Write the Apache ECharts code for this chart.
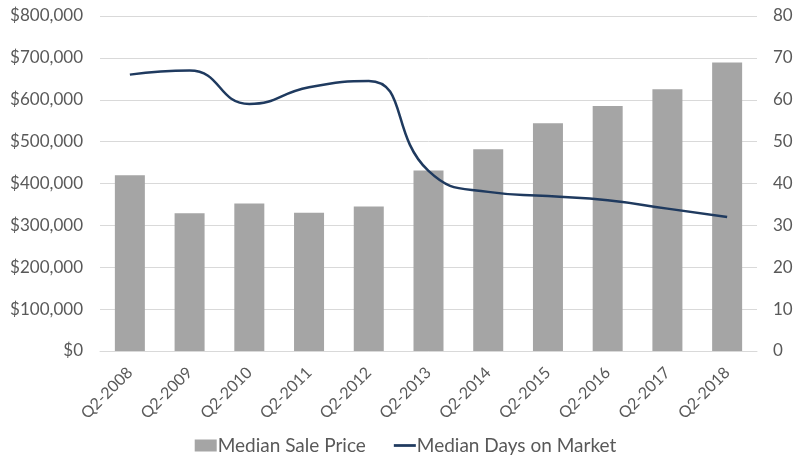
<!DOCTYPE html>
<html>
<head>
<meta charset="utf-8">
<script src="https://cdn.jsdelivr.net/npm/echarts@6/dist/echarts.min.js"></script>
<style>html,body{margin:0;padding:0;background:#fff}#c{width:811px;height:460px}</style>
</head>
<body>
<div id="c"></div>
<script>
const categories = ['Q2-2008','Q2-2009','Q2-2010','Q2-2011','Q2-2012','Q2-2013','Q2-2014','Q2-2015','Q2-2016','Q2-2017','Q2-2018'];
const salePrice = [420000, 329000, 352000, 330000, 345000, 431000, 482000, 544000, 585000, 625000, 689000];
const daysOnMarket = [66, 67, 59, 63, 64.5, 43, 38, 37, 36, 34, 32];
const leftTicks = { min: 0, max: 800000, interval: 100000 };
const rightTicks = { min: 0, max: 80, interval: 10 };

const font = 'Lato, "Open Sans", sans-serif';
const chart = echarts.init(document.getElementById('c'));
chart.setOption({
  animation: false,
  textStyle: { fontFamily: font },
  grid: { left: 100, right: 54, top: 16, bottom: 109, containLabel: false },
  legend: {
    top: 431,
    left: 'center',
    itemGap: 28,
    itemWidth: 22,
    itemHeight: 12,
    textStyle: { fontSize: 19, color: '#595959', fontFamily: font, padding: [0, 0, 0, -4] },
    data: [
      { name: 'Median Sale Price', icon: 'rect' },
      { name: 'Median Days on Market', icon: 'path://M0,5 L24,5 L24,8 L0,8 Z' }
    ]
  },
  xAxis: {
    type: 'category',
    data: categories,
    axisLine: { lineStyle: { color: '#d9d9d9' } },
    axisTick: { show: false },
    axisLabel: { rotate: 45, color: '#595959', fontSize: 16, margin: 19, fontFamily: font, interval: 0 }
  },
  yAxis: [
    {
      type: 'value', min: leftTicks.min, max: leftTicks.max, interval: leftTicks.interval,
      axisLine: { show: false }, axisTick: { show: false },
      splitLine: { lineStyle: { color: '#d9d9d9', width: 1 } },
      axisLabel: {
        color: '#595959', fontSize: 17, margin: 17, fontFamily: font,
        formatter: v => '$' + v.toLocaleString('en-US')
      }
    },
    {
      type: 'value', min: rightTicks.min, max: rightTicks.max, interval: rightTicks.interval,
      axisLine: { show: false }, axisTick: { show: false },
      splitLine: { show: false },
      axisLabel: { color: '#595959', fontSize: 17, margin: 16, fontFamily: font }
    }
  ],
  series: [
    {
      name: 'Median Sale Price', type: 'bar', data: salePrice, yAxisIndex: 0,
      barWidth: 30,
      itemStyle: { color: '#a5a5a5' }
    },
    {
      name: 'Median Days on Market', type: 'line', data: daysOnMarket, yAxisIndex: 1,
      smooth: 0.5, symbol: 'none',
      lineStyle: { color: '#1f3a5f', width: 2.5 },
      itemStyle: { color: '#1f3a5f' }
    }
  ]
});
</script>
</body>
</html>
